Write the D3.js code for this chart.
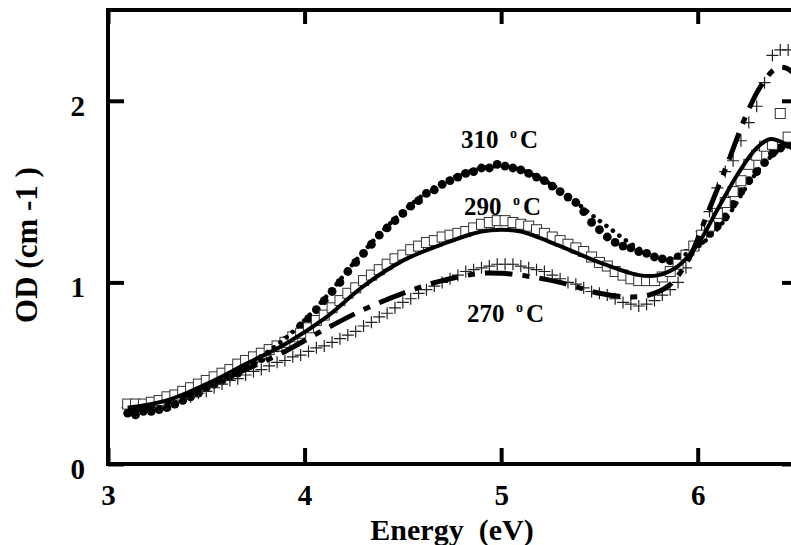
<!DOCTYPE html>
<html>
<head>
<meta charset="utf-8">
<script src="https://cdn.jsdelivr.net/npm/d3@7"></script>
<style>
	body { margin: 0; background: #fff; }
	svg { display: block; }
</style>
</head>
<body>
<svg id="chart" width="791" height="545"></svg>
<script>
// photon energy grid of the measured spectra (eV)
var energy = [
	3.10, 3.14, 3.18, 3.22, 3.26, 3.30, 3.34, 3.38, 3.42, 3.46,
	3.50, 3.54, 3.58, 3.62, 3.66, 3.70, 3.74, 3.78, 3.82, 3.86,
	3.90, 3.94, 3.98, 4.02, 4.06, 4.10, 4.14, 4.18, 4.22, 4.26,
	4.30, 4.34, 4.38, 4.42, 4.46, 4.50, 4.54, 4.58, 4.62, 4.66,
	4.70, 4.74, 4.78, 4.82, 4.86, 4.90, 4.94, 4.98, 5.02, 5.06,
	5.10, 5.14, 5.18, 5.22, 5.26, 5.30, 5.34, 5.38, 5.42, 5.46,
	5.50, 5.54, 5.58, 5.62, 5.66, 5.70, 5.74, 5.78, 5.82, 5.86,
	5.90, 5.94, 5.98, 6.02, 6.06, 6.10, 6.14, 6.18, 6.22, 6.26,
	6.30, 6.34, 6.38, 6.42, 6.46
];

// 310 oC, filled circles
var od310 = [
	0.28, 0.27, 0.29, 0.29, 0.30, 0.31, 0.33, 0.35, 0.37, 0.39,
	0.42, 0.44, 0.46, 0.48, 0.50, 0.53, 0.56, 0.58, 0.62, 0.64,
	0.68, 0.71, 0.76, 0.80, 0.85, 0.90, 0.95, 1.00, 1.06, 1.11,
	1.16, 1.21, 1.26, 1.30, 1.34, 1.38, 1.42, 1.45, 1.49, 1.51,
	1.54, 1.56, 1.58, 1.60, 1.61, 1.63, 1.63, 1.65, 1.64, 1.63,
	1.62, 1.60, 1.58, 1.56, 1.53, 1.50, 1.47, 1.44, 1.39, 1.33,
	1.29, 1.25, 1.22, 1.20, 1.19, 1.17, 1.16, 1.14, 1.13, 1.12,
	1.14, 1.16, 1.20, 1.23, 1.27, 1.31, 1.36, 1.43, 1.50, 1.56,
	1.61, 1.66, 1.71, 1.74, 1.76
];

// 290 oC, open squares
var od290 = [
	0.33, 0.33, 0.33, 0.34, 0.35, 0.37, 0.38, 0.40, 0.42, 0.44,
	0.46, 0.48, 0.50, 0.52, 0.55, 0.57, 0.59, 0.61, 0.63, 0.65,
	0.67, 0.70, 0.72, 0.75, 0.79, 0.82, 0.86, 0.90, 0.94, 0.97,
	1.01, 1.04, 1.07, 1.10, 1.13, 1.15, 1.18, 1.20, 1.22, 1.23,
	1.25, 1.26, 1.27, 1.28, 1.30, 1.32, 1.33, 1.34, 1.34, 1.33,
	1.32, 1.31, 1.29, 1.27, 1.25, 1.23, 1.21, 1.19, 1.17, 1.14,
	1.11, 1.09, 1.06, 1.04, 1.02, 1.01, 1.01, 1.01, 1.03, 1.06,
	1.10, 1.15, 1.20, 1.26, 1.31, 1.38, 1.44, 1.50, 1.56, 1.65,
	1.70, 1.75, 1.76, 1.93, 1.80
];

// 270 oC, plus signs
var od270 = [
	0.31, 0.31, 0.31, 0.32, 0.32, 0.33, 0.34, 0.36, 0.37, 0.39,
	0.40, 0.42, 0.44, 0.46, 0.47, 0.49, 0.51, 0.52, 0.54, 0.56,
	0.57, 0.59, 0.60, 0.62, 0.64, 0.65, 0.67, 0.69, 0.71, 0.73,
	0.76, 0.78, 0.81, 0.83, 0.86, 0.89, 0.91, 0.94, 0.96, 0.98,
	1.00, 1.02, 1.04, 1.06, 1.07, 1.08, 1.09, 1.10, 1.10, 1.10,
	1.09, 1.08, 1.07, 1.06, 1.04, 1.02, 1.00, 0.99, 0.97, 0.95,
	0.94, 0.93, 0.91, 0.89, 0.88, 0.87, 0.88, 0.90, 0.93, 0.96,
	1.00, 1.08, 1.18, 1.28, 1.39, 1.52, 1.61, 1.67, 1.78, 1.88,
	1.97, 2.10, 2.25, 2.28, 2.28
];

// fitted curves
var fit310E = [3.10, 3.30, 3.50, 3.70, 3.90, 4.10, 4.30, 4.50, 4.70, 4.90, 5.00, 5.10, 5.30, 5.45, 5.55, 5.65, 5.75, 5.85, 5.95, 6.05, 6.15, 6.25, 6.35, 6.45, 6.50];
var fit310 = [0.29, 0.32, 0.42, 0.54, 0.69, 0.91, 1.17, 1.39, 1.55, 1.63, 1.64, 1.62, 1.51, 1.38, 1.30, 1.22, 1.16, 1.13, 1.16, 1.24, 1.36, 1.53, 1.67, 1.75, 1.76];

var fit290E = [3.10, 3.30, 3.50, 3.70, 3.90, 4.10, 4.30, 4.50, 4.70, 4.90, 5.00, 5.10, 5.30, 5.50, 5.70, 5.80, 5.90, 6.00, 6.10, 6.20, 6.30, 6.37, 6.45, 6.50];
var fit290 = [0.31, 0.35, 0.44, 0.55, 0.66, 0.80, 0.98, 1.12, 1.21, 1.28, 1.29, 1.28, 1.20, 1.11, 1.04, 1.04, 1.09, 1.21, 1.40, 1.59, 1.74, 1.79, 1.76, 1.72];

var fit270E = [3.10, 3.30, 3.50, 3.70, 3.90, 4.10, 4.30, 4.50, 4.70, 4.90, 5.00, 5.10, 5.30, 5.50, 5.65, 5.75, 5.85, 5.95, 6.05, 6.15, 6.25, 6.32, 6.40, 6.45, 6.50];
var fit270 = [0.29, 0.34, 0.43, 0.52, 0.62, 0.74, 0.85, 0.94, 1.01, 1.05, 1.05, 1.04, 1.00, 0.94, 0.92, 0.93, 0.98, 1.12, 1.38, 1.65, 1.93, 2.08, 2.18, 2.18, 2.14];

var xTicks = [3, 4, 5, 6];
var yTicks = [0, 1, 2];
var labels = ["310", "290", "270"];

var svg = d3.select("#chart");
var FONT = "'Liberation Serif', 'Times New Roman', serif";

var x = d3.scaleLinear().domain([3, 6.5]).range([108, 796]);
var y = d3.scaleLinear().domain([0, 2.5]).range([464, 10]);

function pts(xs, ys) {
	return xs.map(function(e, i) { return [e, ys[i]]; });
}

var line = d3.line()
	.x(function(d) { return x(d[0]); })
	.y(function(d) { return y(d[1]); })
	.curve(d3.curveCatmullRom);

// data markers
var g = svg.append("g");

g.selectAll(".c310").data(pts(energy, od310)).enter()
	.append("circle")
	.attr("cx", function(d) { return x(d[0]); })
	.attr("cy", function(d) { return y(d[1]); })
	.attr("r", 4.4)
	.attr("fill", "#000");

g.selectAll(".p270").data(pts(energy, od270)).enter()
	.append("path")
	.attr("d", function(d) {
		var cx = x(d[0]), cy = y(d[1]), h = 6;
		return "M" + (cx - h) + "," + cy + "H" + (cx + h) + "M" + cx + "," + (cy - h) + "V" + (cy + h);
	})
	.attr("stroke", "#222")
	.attr("stroke-width", 1.2)
	.attr("fill", "none");

g.selectAll(".s290").data(pts(energy, od290)).enter()
	.append("rect")
	.attr("x", function(d) { return x(d[0]) - 5; })
	.attr("y", function(d) { return y(d[1]) - 5; })
	.attr("width", 10)
	.attr("height", 10)
	.attr("fill", "#fff")
	.attr("stroke", "#333")
	.attr("stroke-width", 1);

// fits
g.append("path")
	.attr("d", line(pts(fit310E, fit310)))
	.attr("fill", "none")
	.attr("stroke", "#000")
	.attr("stroke-width", 4.5)
	.attr("stroke-linecap", "round")
	.attr("stroke-dasharray", "0.1,8");

g.append("path")
	.attr("d", line(pts(fit290E, fit290)))
	.attr("fill", "none")
	.attr("stroke", "#000")
	.attr("stroke-width", 4);

g.append("path")
	.attr("d", line(pts(fit270E, fit270)))
	.attr("fill", "none")
	.attr("stroke", "#000")
	.attr("stroke-width", 5)
	.attr("stroke-dasharray", "28,10,7,10");

// frame
svg.append("rect")
	.attr("x", x(3))
	.attr("y", y(2.5))
	.attr("width", x(6.5) - x(3))
	.attr("height", y(0) - y(2.5))
	.attr("fill", "none")
	.attr("stroke", "#000")
	.attr("stroke-width", 4);

// axes, ticks pointing inwards
var xAxis = svg.append("g")
	.attr("transform", "translate(0," + y(0) + ")")
	.call(d3.axisBottom(x).tickValues(xTicks).tickSize(-16).tickPadding(20).tickFormat(d3.format("d")));

var yAxis = svg.append("g")
	.attr("transform", "translate(" + x(3) + ",0)")
	.call(d3.axisLeft(y).tickValues(yTicks).tickSize(-16).tickPadding(23).tickFormat(d3.format("d")));

svg.append("g")
	.attr("transform", "translate(0," + y(2.5) + ")")
	.call(d3.axisTop(x).tickValues(xTicks).tickSize(-14).tickFormat(""));

svg.append("g")
	.attr("transform", "translate(" + x(6.5) + ",0)")
	.call(d3.axisRight(y).tickValues(yTicks).tickSize(-14).tickFormat(""));

svg.selectAll(".domain").remove();
svg.selectAll(".tick line").attr("stroke", "#000").attr("stroke-width", 4);
svg.selectAll(".tick text")
	.attr("font-family", FONT)
	.attr("font-weight", "bold")
	.attr("font-size", 29)
	.attr("fill", "#000");
yAxis.selectAll(".tick text").attr("dy", "0.5em");

// axis titles
svg.append("text")
	.attr("x", 452)
	.attr("y", 540)
	.attr("text-anchor", "middle")
	.attr("font-family", FONT)
	.attr("font-weight", "bold")
	.attr("font-size", 30)
	.style("white-space", "pre")
	.text("Energy  (eV)");

svg.append("text")
	.attr("transform", "translate(37,245) rotate(-90)")
	.attr("text-anchor", "middle")
	.attr("font-family", FONT)
	.attr("font-weight", "bold")
	.attr("font-size", 31)
	.style("white-space", "pre")
	.text("OD (cm -1 )");

// temperature labels
var labelPos = [[461, 148], [464, 215], [467, 322]];
labels.forEach(function(t, i) {
	var p = labelPos[i];
	var lab = svg.append("g");
	lab.append("text")
		.attr("x", p[0])
		.attr("y", p[1])
		.attr("font-family", FONT)
		.attr("font-weight", "bold")
		.attr("font-size", 25)
		.text(t);
	lab.append("text")
		.attr("x", p[0] + 49)
		.attr("y", p[1] - 10)
		.attr("font-family", FONT)
		.attr("font-weight", "bold")
		.attr("font-size", 14)
		.text("o");
	lab.append("text")
		.attr("x", p[0] + 59)
		.attr("y", p[1])
		.attr("font-family", FONT)
		.attr("font-weight", "bold")
		.attr("font-size", 25)
		.text("C");
});
</script>
</body>
</html>
